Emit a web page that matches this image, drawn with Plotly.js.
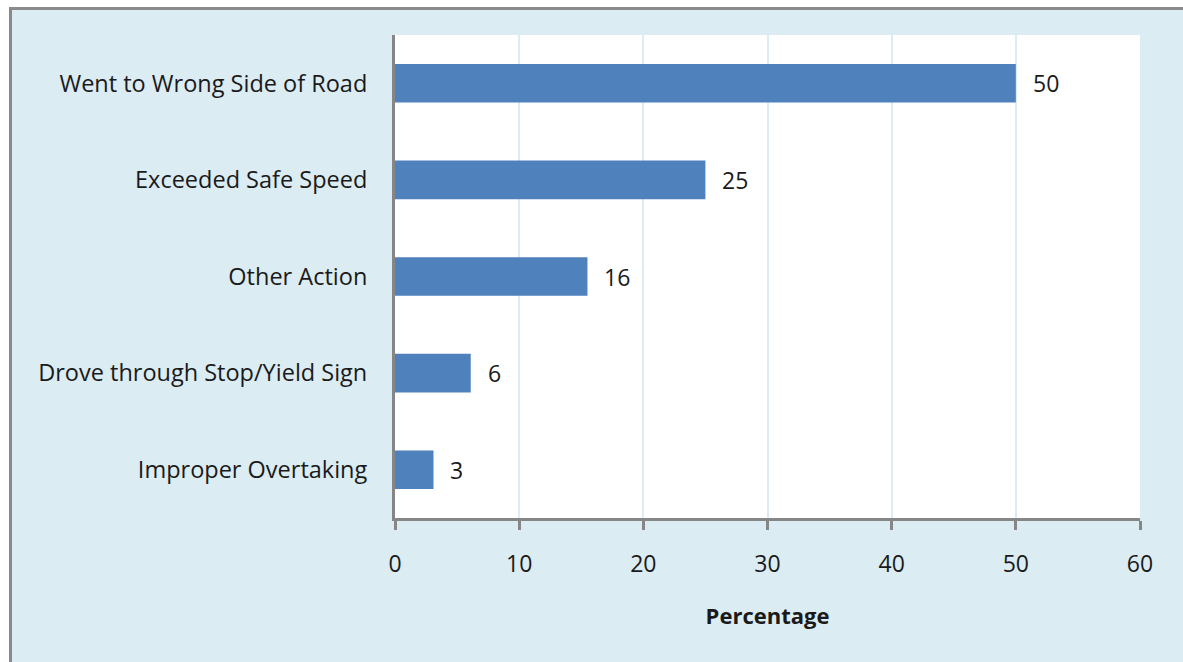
<!DOCTYPE html>
<html>
<head>
<meta charset="utf-8">
<script src="https://cdn.plot.ly/plotly-3.0.1.min.js"></script>
<style>
  html, body { margin: 0; padding: 0; background: #ffffff; width: 1183px; height: 662px; overflow: hidden; }
  #frame { position: absolute; left: 9px; top: 7px; width: 1180px; height: 660px; border-left: 3px solid #8a8a8a; border-top: 3px solid #8a8a8a; background: #dbecf3; }
  #chart { position: absolute; left: 0; top: 0; width: 1171px; height: 652px; }
</style>
</head>
<body>
<div id="frame"><div id="chart"></div></div>
<script>
const categories = [
  "Went to Wrong Side of Road",
  "Exceeded Safe Speed",
  "Other Action",
  "Drove through Stop/Yield Sign",
  "Improper Overtaking"
];
const values = [50, 25, 15.5, 6.1, 3.1];
const valueLabels = ["50", "25", "16", "6", "3"];
const xTicks = [0, 10, 20, 30, 40, 50, 60];

const font = "Open Sans, Noto Sans, sans-serif";
const textColor = "#1a1a1a";
const fs = 23;

const trace = {
  type: "bar",
  orientation: "h",
  y: categories,
  x: values,
  marker: { color: "#4f81bd", line: { width: 0 } },
  hoverinfo: "skip"
};

const annotations = categories.map((c, i) => ({
  x: values[i], y: c, xref: "x", yref: "y",
  text: valueLabels[i], showarrow: false,
  xanchor: "left", yanchor: "middle", xshift: 15,
  font: { family: font, size: fs, color: textColor }
}));

const layout = {
  width: 1171, height: 652,
  margin: { l: 383, r: 43, t: 25, b: 144, pad: 0 },
  paper_bgcolor: "#dbecf3",
  plot_bgcolor: "#ffffff",
  showlegend: false,
  bargap: 0.6,
  font: { family: font, size: fs, color: textColor },
  xaxis: {
    range: [0, 60],
    tickvals: xTicks,
    ticktext: xTicks.map(String),
    showgrid: true, gridcolor: "#dbecf3", gridwidth: 2,
    showline: true, linecolor: "#868686", linewidth: 3,
    ticks: "outside", ticklen: 9, tickwidth: 3, tickcolor: "#868686",
    ticklabelstandoff: 14,
    zeroline: false,
    tickfont: { family: font, size: fs, color: textColor },
    title: { text: "<b>Percentage</b>", standoff: 32, font: { family: font, size: 22, color: textColor } }
  },
  yaxis: {
    autorange: "reversed",
    type: "category",
    showline: true, linecolor: "#868686", linewidth: 3,
    ticks: "", showgrid: false, zeroline: false,
    ticklabelstandoff: 20,
    tickfont: { family: font, size: 23.5, color: textColor }
  },
  annotations: annotations
};

Plotly.newPlot("chart", [trace], layout, { displayModeBar: false, staticPlot: true });
</script>
</body>
</html>
